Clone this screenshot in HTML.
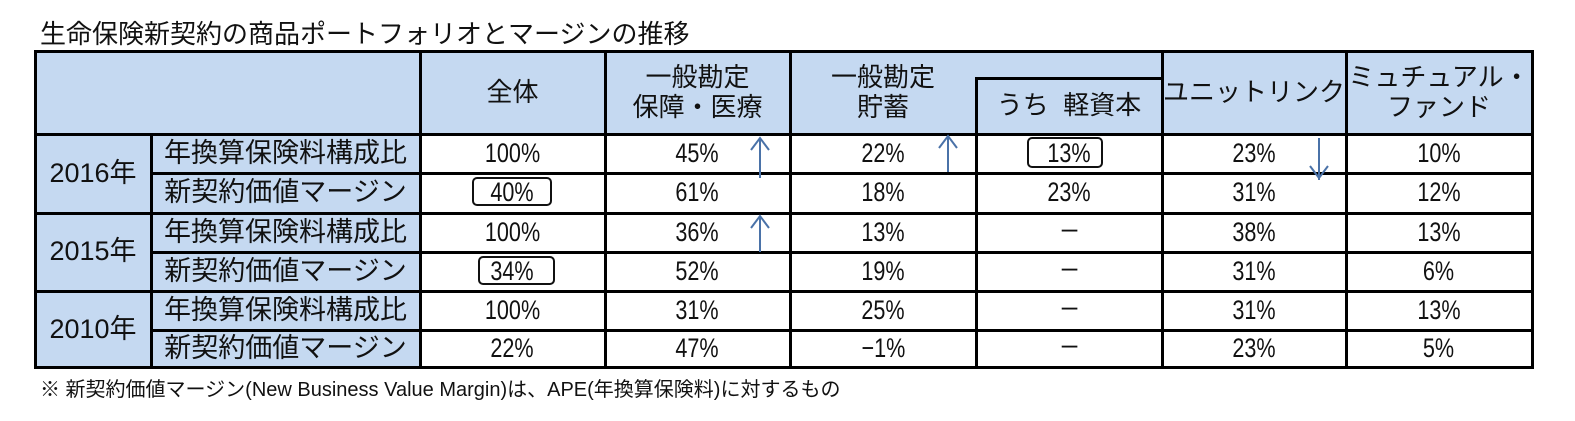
<!DOCTYPE html>
<html><head><meta charset="utf-8">
<style>
body{margin:0;width:1575px;height:421px;background:#fff;position:relative;overflow:hidden;font-family:"Liberation Sans","Noto Sans CJK JP",sans-serif;color:#111}
.c{position:absolute;display:flex;align-items:center;justify-content:center;text-align:center;line-height:1.15;box-sizing:border-box}
.b{background:#c5d9f1}
.h{font-size:26px}
.lb{font-size:27px}
.v{font-size:27px}
.v span{display:inline-block;transform:scaleX(0.8)}
.l{position:absolute;background:#000}
.box{position:absolute;border:2px solid #111;border-radius:5px;box-sizing:border-box}
</style></head><body>
<div class="c" style="left:40px;top:18px;height:34px;font-size:26px;justify-content:flex-start;white-space:nowrap">生命保険新契約の商品ポートフォリオとマージンの推移</div>

<div>
<div class="c b" style="left:35px;top:51px;width:385px;height:83px"></div>
<div class="c b h" style="left:420px;top:51px;width:185px;height:83px">全体</div>
<div class="c b h" style="left:605px;top:51px;width:185px;height:83px">一般勘定<br>保障・医療</div>
<div class="c b" style="left:790px;top:51px;width:372px;height:83px"></div>
<div class="c h" style="left:790px;top:51px;width:186px;height:83px">一般勘定<br>貯蓄</div>
<div class="c h" style="left:976px;top:78px;width:186px;height:56px">うち&nbsp;&nbsp;軽資本</div>
<div class="c b h" style="left:1162px;top:51px;width:184px;height:83px">ユニットリンク</div>
<div class="c b h" style="left:1346px;top:51px;width:186px;height:83px">ミュチュアル・<br>ファンド</div>

<div class="c b lb" style="left:35px;top:134px;width:116px;height:79px">2016年</div>
<div class="c b lb" style="left:35px;top:213px;width:116px;height:78px">2015年</div>
<div class="c b lb" style="left:35px;top:291px;width:116px;height:77px">2010年</div>

<div class="c b lb" style="left:151px;top:134px;width:269px;height:39px">年換算保険料構成比</div>
<div class="c b lb" style="left:151px;top:173px;width:269px;height:40px">新契約価値マージン</div>
<div class="c b lb" style="left:151px;top:213px;width:269px;height:39px">年換算保険料構成比</div>
<div class="c b lb" style="left:151px;top:252px;width:269px;height:39px">新契約価値マージン</div>
<div class="c b lb" style="left:151px;top:291px;width:269px;height:39px">年換算保険料構成比</div>
<div class="c b lb" style="left:151px;top:330px;width:269px;height:38px">新契約価値マージン</div>

<div id="vals"></div>

<div class="l" style="left:34px;top:50px;width:1500px;height:3px"></div>
<div class="l" style="left:34px;top:366px;width:1500px;height:3px"></div>
<div class="l" style="left:34px;top:133px;width:1500px;height:3px"></div>
<div class="l" style="left:34px;top:212px;width:1500px;height:3px"></div>
<div class="l" style="left:34px;top:290px;width:1500px;height:3px"></div>
<div class="l" style="left:150px;top:172px;width:1384px;height:3px"></div>
<div class="l" style="left:150px;top:251px;width:1384px;height:3px"></div>
<div class="l" style="left:150px;top:329px;width:1384px;height:3px"></div>
<div class="l" style="left:975px;top:77px;width:188px;height:3px"></div>
<div class="l" style="left:34px;top:50px;width:3px;height:319px"></div>
<div class="l" style="left:150px;top:133px;width:3px;height:236px"></div>
<div class="l" style="left:419px;top:50px;width:3px;height:319px"></div>
<div class="l" style="left:604px;top:50px;width:3px;height:319px"></div>
<div class="l" style="left:789px;top:50px;width:3px;height:319px"></div>
<div class="l" style="left:975px;top:77px;width:3px;height:292px"></div>
<div class="l" style="left:1161px;top:50px;width:3px;height:319px"></div>
<div class="l" style="left:1345px;top:50px;width:3px;height:319px"></div>
<div class="l" style="left:1531px;top:50px;width:3px;height:319px"></div>
</div>

<div class="box" style="left:472px;top:177px;width:80px;height:29px"></div>
<div class="box" style="left:478px;top:256px;width:77px;height:29px"></div>
<div class="box" style="left:1027px;top:137px;width:76px;height:31px"></div>

<svg style="position:absolute;left:0;top:0" width="1575" height="421">
<g stroke="#4a72a8" stroke-width="2" fill="none">
<path d="M760 178 V138 M751 150 L760 138 L769 150"/>
<path d="M948 172 V136 M939 148 L948 136 L957 148"/>
<path d="M1319 138 V180 M1310 166 L1319 178 L1328 166"/>
<path d="M760 252 V216 M751 228 L760 216 L769 228"/>
</g></svg>

<div class="c" style="left:40px;top:376px;height:28px;font-size:20px;justify-content:flex-start;white-space:nowrap">※ 新契約価値マージン(New Business Value Margin)は、APE(年換算保険料)に対するもの</div>

<script>
const colLeft=[420,605,790,976,1162,1346];
const colW=[185,185,186,186,184,186];
const rowTop=[134,173,213,252,291,330];
const rowH=[39,40,39,39,39,38];
const values=[
["100%","45%","22%","13%","23%","10%"],
["40%","61%","18%","23%","31%","12%"],
["100%","36%","13%","－","38%","13%"],
["34%","52%","19%","－","31%","6%"],
["100%","31%","25%","－","31%","13%"],
["22%","47%","−1%","－","23%","5%"]];
const host=document.getElementById('vals');
values.forEach((row,r)=>row.forEach((t,c)=>{
 const d=document.createElement('div');
 d.className='c v';
 
 
 d.style.cssText=`left:${colLeft[c]}px;top:${rowTop[r]}px;width:${colW[c]}px;height:${rowH[r]}px;background:#fff`;
 const s=document.createElement('span');
 s.textContent=t;d.appendChild(s);host.appendChild(d);
}));
</script>
</body></html>
